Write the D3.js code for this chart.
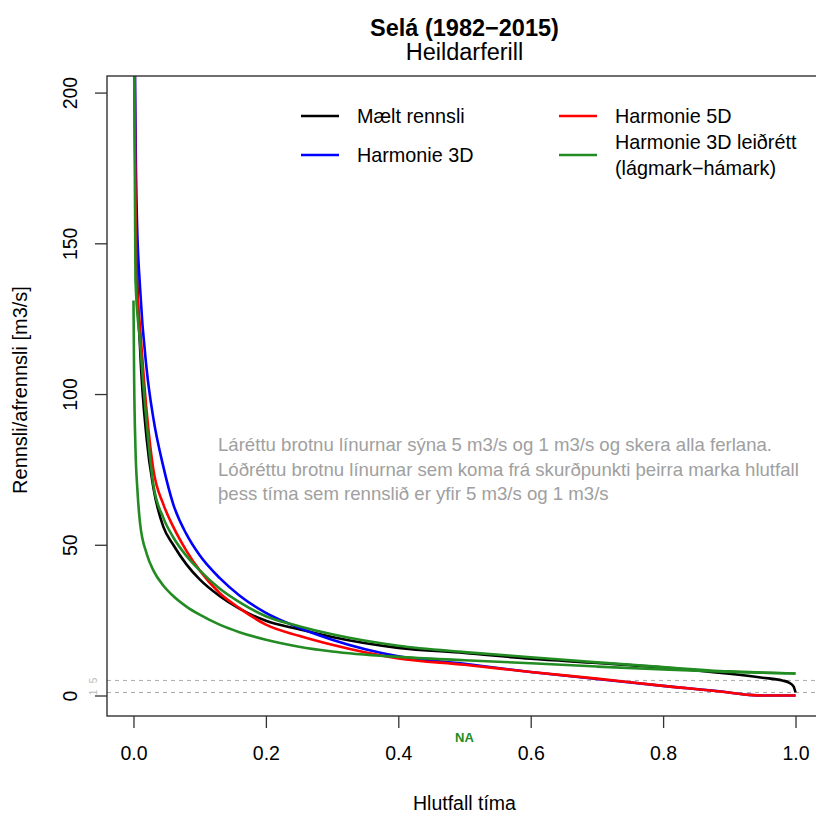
<!DOCTYPE html>
<html>
<head>
<meta charset="utf-8">
<script src="https://cdn.jsdelivr.net/npm/d3@7"></script>
<style>
  html, body { margin: 0; padding: 0; background: #fff; }
  svg { display: block; font-family: "Liberation Sans", Arial, Helvetica, sans-serif; }
</style>
</head>
<body>
<svg id="chart" width="816" height="813"></svg>
<script>
// Flow duration curves for Selá, 1982–2015: share of time (x) vs discharge in m3/s (y)
const measuredP = [0, 0.002, 0.005, 0.01, 0.02, 0.03, 0.045, 0.06, 0.08, 0.1, 0.13, 0.16, 0.2, 0.25, 0.3, 0.4, 0.5, 0.6, 0.7, 0.8, 0.9, 0.95, 0.98, 0.99, 0.997, 1.0];
const measuredQ = [350, 200, 145, 115, 85, 69, 56, 50, 43.5, 38.5, 33, 28.8, 24.8, 22, 19.4, 15.8, 14.1, 12.2, 10.8, 9.3, 7.2, 5.9, 5.0, 4.3, 3.0, 1.0];

const h3P = [0, 0.002, 0.005, 0.01, 0.02, 0.03, 0.045, 0.06, 0.08, 0.1, 0.13, 0.16, 0.2, 0.25, 0.3, 0.4, 0.5, 0.6, 0.7, 0.8, 0.9, 0.93, 0.95, 0.98, 1.0];
const h3Q = [400, 215, 160, 135, 108, 92, 76, 63.5, 53.5, 46.5, 39.0, 33.2, 27.4, 22.5, 18.5, 13.0, 10.5, 7.8, 5.5, 3.2, 1.0, 0.2, 0, 0, 0];

const h5P = [0, 0.002, 0.005, 0.01, 0.02, 0.03, 0.045, 0.06, 0.08, 0.1, 0.13, 0.16, 0.2, 0.25, 0.3, 0.4, 0.5, 0.6, 0.7, 0.8, 0.9, 0.93, 0.95, 1.0];
const h5Q = [350, 200, 138, 122, 94, 75, 63.5, 56, 48, 41.5, 34, 29, 23.5, 19.8, 16.8, 12.3, 10.2, 7.8, 5.6, 3.2, 1.0, 0.2, 0, 0];

const corrMaxP = [0, 0.001, 0.003, 0.01, 0.02, 0.03, 0.045, 0.06, 0.08, 0.1, 0.13, 0.16, 0.2, 0.25, 0.3, 0.4, 0.5, 0.6, 0.7, 0.8, 0.9, 0.95, 1.0];
const corrMaxQ = [500, 210, 138, 117, 90, 70, 59, 52.5, 46.3, 41.5, 35.5, 31, 26.3, 23, 20.3, 16.5, 14.4, 12.7, 11.0, 9.4, 8.0, 7.6, 7.3];

const corrMinP = [0, 0.001, 0.003, 0.006, 0.01, 0.02, 0.03, 0.045, 0.06, 0.08, 0.1, 0.13, 0.16, 0.2, 0.25, 0.3, 0.4, 0.5, 0.6, 0.7, 0.8, 0.9, 1.0];
const corrMinQ = [131, 105, 82, 68, 57, 47, 41.5, 36.5, 33, 29.5, 26.8, 23.5, 21, 18.5, 16.2, 14.6, 12.8, 11.7, 10.7, 9.6, 8.6, 7.8, 7.3];

const xTicks = [0, 0.2, 0.4, 0.6, 0.8, 1.0];
const yTicks = [0, 50, 100, 150, 200];
const thresholds = [5, 1];

const legendLeft = ["Mælt rennsli", "Harmonie 3D"];
const legendRight = ["Harmonie 5D", "Harmonie 3D leiðrétt", "(lágmark−hámark)"];
const noteLines = [
  "Láréttu brotnu línurnar sýna 5 m3/s og 1 m3/s og skera alla ferlana.",
  "Lóðréttu brotnu línurnar sem koma frá skurðpunkti þeirra marka hlutfall",
  "þess tíma sem rennslið er yfir 5 m3/s og 1 m3/s"
];

const GREEN = "#228B22";
const series = [
  { p: measuredP, q: measuredQ, color: "#000000" },
  { p: h3P, q: h3Q, color: "#0000FF" },
  { p: h5P, q: h5Q, color: "#FF0000" },
  { p: corrMaxP, q: corrMaxQ, color: GREEN },
  { p: corrMinP, q: corrMinQ, color: GREEN }
];

const svg = d3.select("#chart");
const x = d3.scaleLinear().domain([-0.04, 1.04]).range([107, 822]);
const y = d3.scaleLinear().domain([-6.8, 205.5]).range([716, 76]);
const [px0, px1] = x.range();
const [py0, py1] = [y(y.domain()[1]), y(y.domain()[0])];

svg.append("defs").append("clipPath").attr("id", "plotclip")
  .append("rect").attr("x", px0).attr("y", py0).attr("width", px1 - px0).attr("height", py1 - py0);

// Titles
svg.append("text").attr("x", (px0 + px1) / 2).attr("y", 36).attr("text-anchor", "middle")
  .attr("font-weight", "bold").attr("font-size", 23.5).text("Selá (1982−2015)");
svg.append("text").attr("x", (px0 + px1) / 2).attr("y", 60).attr("text-anchor", "middle")
  .attr("font-size", 23.5).text("Heildarferill");

// Threshold lines
const plot = svg.append("g").attr("clip-path", "url(#plotclip)");
plot.selectAll("line.thr").data(thresholds).join("line")
  .attr("x1", px0).attr("x2", px1)
  .attr("y1", d => y(d)).attr("y2", d => y(d))
  .attr("stroke", "#aaaaaa").attr("stroke-width", 1).attr("stroke-dasharray", "4,4");

svg.selectAll("text.thr").data(thresholds).join("text")
  .attr("transform", d => `translate(96.5,${y(d)}) rotate(-90)`)
  .attr("text-anchor", "middle").attr("font-size", 10).attr("fill", "#bbbbbb")
  .text(d => d);

// Curves
const line = d3.line().x(d => x(d[0])).y(d => y(d[1])).curve(d3.curveMonotoneX);
plot.selectAll("path.curve").data(series).join("path")
  .attr("d", s => line(s.p.map((p, i) => [p, s.q[i]])))
  .attr("fill", "none").attr("stroke", s => s.color)
  .attr("stroke-width", 2.6).attr("stroke-linejoin", "round");

// Frame
svg.append("rect").attr("x", px0).attr("y", py0).attr("width", px1 - px0).attr("height", py1 - py0)
  .attr("fill", "none").attr("stroke", "#222").attr("stroke-width", 1.3);

// Axes
const xAxis = svg.append("g").attr("transform", `translate(0,${py1})`)
  .call(d3.axisBottom(x).tickValues(xTicks).tickFormat(d3.format(".1f")).tickSize(12).tickPadding(18));
const yAxis = svg.append("g").attr("transform", `translate(${px0},0)`)
  .call(d3.axisLeft(y).tickValues(yTicks).tickSize(12).tickPadding(0));
[xAxis, yAxis].forEach(g => {
  g.select(".domain").remove();
  g.selectAll(".tick line").attr("stroke", "#333").attr("stroke-width", 1.3);
  g.selectAll(".tick text").attr("font-size", 19.5).attr("fill", "#000")
    .attr("font-family", "'Liberation Sans', Arial, sans-serif");
});
yAxis.selectAll(".tick text")
  .attr("x", null).attr("text-anchor", "middle")
  .attr("transform", "translate(-37,0) rotate(-90)")
  .attr("y", 0).attr("dy", "0.35em");

// Axis titles
svg.append("text").attr("x", (px0 + px1) / 2).attr("y", 810).attr("text-anchor", "middle")
  .attr("font-size", 19.5).text("Hlutfall tíma");
svg.append("text").attr("transform", `translate(27,${(py0 + py1) / 2 - 6}) rotate(-90)`)
  .attr("text-anchor", "middle").attr("font-size", 20).text("Rennsli/afrennsli [m3/s]");

// Missing-value marker
svg.append("text").attr("x", x(0.5)).attr("y", 742).attr("text-anchor", "middle")
  .attr("font-size", 13).attr("font-weight", "bold").attr("fill", GREEN).text("NA");

// Note
svg.append("g").selectAll("text").data(noteLines).join("text")
  .attr("x", 218).attr("y", (d, i) => 451 + i * 24.5)
  .attr("font-size", 18.6).attr("fill", "#a0a0a0").text(d => d);

// Legend
const leg = svg.append("g");
const legItems = [
  { x: 301, y: 116, color: "#000000", lines: [legendLeft[0]] },
  { x: 301, y: 155, color: "#0000FF", lines: [legendLeft[1]] },
  { x: 559, y: 116, color: "#FF0000", lines: [legendRight[0]] },
  { x: 559, y: 155, color: GREEN, lines: [legendRight[1], legendRight[2]] }
];
legItems.forEach(it => {
  leg.append("line").attr("x1", it.x).attr("x2", it.x + 38).attr("y1", it.y).attr("y2", it.y)
    .attr("stroke", it.color).attr("stroke-width", 2.6);
  const n = it.lines.length;
  it.lines.forEach((t, i) => {
    leg.append("text").attr("x", it.x + 56).attr("y", it.y + (i - (n - 1) / 2) * 26 + 7)
      .attr("font-size", 19.8).text(t);
  });
});
</script>
</body>
</html>
